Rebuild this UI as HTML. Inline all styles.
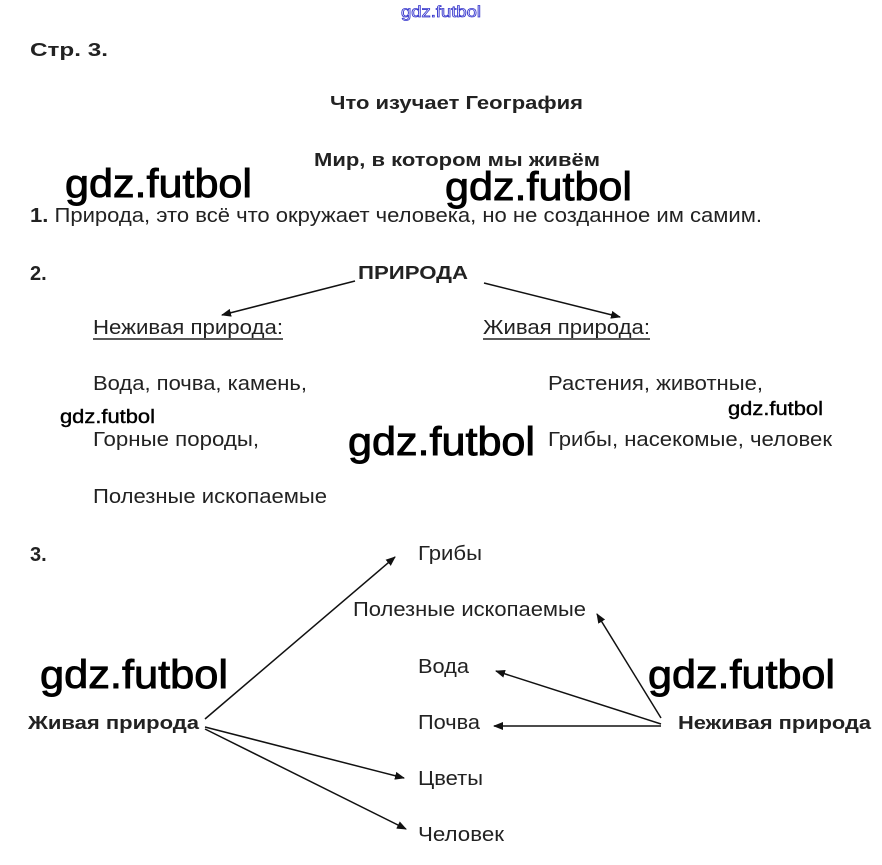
<!DOCTYPE html>
<html><head><meta charset="utf-8"><style>
html,body{margin:0;padding:0;background:#fff;}
svg{display:block;}
text{font-family:"Liberation Sans",sans-serif;fill:#222;}
.n{font-size:20px;}
.b{font-size:18px;font-weight:bold;}
.w{font-size:40px;fill:#000;stroke:#000;stroke-width:0.9;}
.ws{font-size:19px;fill:#000;stroke:#000;stroke-width:0.4;}
</style></head><body>
<svg width="882" height="865" viewBox="0 0 882 865" xmlns="http://www.w3.org/2000/svg">
<defs><marker id="a" markerWidth="10" markerHeight="8" refX="9" refY="4" orient="auto" markerUnits="userSpaceOnUse"><path d="M0,0 L10,4 L0,8 z" fill="#111"/></marker></defs>
<text x="401" y="17" style="font-size:16px;fill:#fff;stroke:#33c;stroke-width:0.8" textLength="80" lengthAdjust="spacingAndGlyphs">gdz.futbol</text>
<text class="b" x="30" y="56" textLength="78" lengthAdjust="spacingAndGlyphs">Стр. 3. </text>
<text class="b" x="330" y="109" textLength="253" lengthAdjust="spacingAndGlyphs">Что изучает География</text>
<text class="b" x="314" y="166" textLength="286" lengthAdjust="spacingAndGlyphs">Мир, в котором мы живём</text>
<text class="w" x="65" y="197" textLength="187" lengthAdjust="spacingAndGlyphs">gdz.futbol</text>
<text class="w" x="445" y="200" textLength="187" lengthAdjust="spacingAndGlyphs">gdz.futbol</text>
<text class="n" x="30" y="222" textLength="732" lengthAdjust="spacingAndGlyphs"><tspan font-weight="bold">1.</tspan> Природа, это всё что окружает человека, но не созданное им самим.</text>
<text class="b" x="30" y="280" style="font-size:20px">2.</text>
<text class="b" x="358" y="279" textLength="110" lengthAdjust="spacingAndGlyphs">ПРИРОДА</text>
<line x1="355" y1="281" x2="222" y2="315" stroke="#111" stroke-width="1.5" marker-end="url(#a)"/>
<line x1="484" y1="283" x2="620" y2="317" stroke="#111" stroke-width="1.5" marker-end="url(#a)"/>
<text class="n" x="93" y="334" textLength="190" lengthAdjust="spacingAndGlyphs">Неживая природа:</text>
<line x1="93" y1="339" x2="283" y2="339" stroke="#222" stroke-width="1.5"/>
<text class="n" x="483" y="334" textLength="167" lengthAdjust="spacingAndGlyphs">Живая природа:</text>
<line x1="483" y1="339" x2="650" y2="339" stroke="#222" stroke-width="1.5"/>
<text class="n" x="93" y="390" textLength="214" lengthAdjust="spacingAndGlyphs">Вода, почва, камень,</text>
<text class="n" x="548" y="390" textLength="215" lengthAdjust="spacingAndGlyphs">Растения, животные,</text>
<text class="ws" x="60" y="423" textLength="95" lengthAdjust="spacingAndGlyphs">gdz.futbol</text>
<text class="ws" x="728" y="415" textLength="95" lengthAdjust="spacingAndGlyphs">gdz.futbol</text>
<text class="n" x="93" y="446" textLength="166" lengthAdjust="spacingAndGlyphs">Горные породы,</text>
<text class="w" x="348" y="455" textLength="187" lengthAdjust="spacingAndGlyphs">gdz.futbol</text>
<text class="n" x="548" y="446" textLength="284" lengthAdjust="spacingAndGlyphs">Грибы, насекомые, человек</text>
<text class="n" x="93" y="503" textLength="234" lengthAdjust="spacingAndGlyphs">Полезные ископаемые</text>
<text class="b" x="30" y="561" style="font-size:20px">3.</text>
<text class="n" x="418" y="560" textLength="64" lengthAdjust="spacingAndGlyphs">Грибы</text>
<text class="n" x="353" y="616" textLength="233" lengthAdjust="spacingAndGlyphs">Полезные ископаемые</text>
<text class="n" x="418" y="673" textLength="51" lengthAdjust="spacingAndGlyphs">Вода</text>
<text class="n" x="418" y="729" textLength="62" lengthAdjust="spacingAndGlyphs">Почва</text>
<text class="n" x="418" y="785" textLength="65" lengthAdjust="spacingAndGlyphs">Цветы</text>
<text class="n" x="418" y="841" textLength="86" lengthAdjust="spacingAndGlyphs">Человек</text>
<text class="w" x="40" y="688" textLength="188" lengthAdjust="spacingAndGlyphs">gdz.futbol</text>
<text class="w" x="648" y="688" textLength="187" lengthAdjust="spacingAndGlyphs">gdz.futbol</text>
<text class="b" x="28" y="729" textLength="171" lengthAdjust="spacingAndGlyphs">Живая природа</text>
<text class="b" x="678" y="729" textLength="193" lengthAdjust="spacingAndGlyphs">Неживая природа</text>
<line x1="205" y1="719" x2="395" y2="557" stroke="#111" stroke-width="1.5" marker-end="url(#a)"/>
<line x1="205" y1="727" x2="404" y2="778" stroke="#111" stroke-width="1.5" marker-end="url(#a)"/>
<line x1="205" y1="729" x2="406" y2="829" stroke="#111" stroke-width="1.5" marker-end="url(#a)"/>
<line x1="661" y1="718" x2="597" y2="614" stroke="#111" stroke-width="1.5" marker-end="url(#a)"/>
<line x1="661" y1="724" x2="496" y2="671" stroke="#111" stroke-width="1.5" marker-end="url(#a)"/>
<line x1="661" y1="726" x2="494" y2="726" stroke="#111" stroke-width="1.5" marker-end="url(#a)"/>
</svg>
</body></html>
